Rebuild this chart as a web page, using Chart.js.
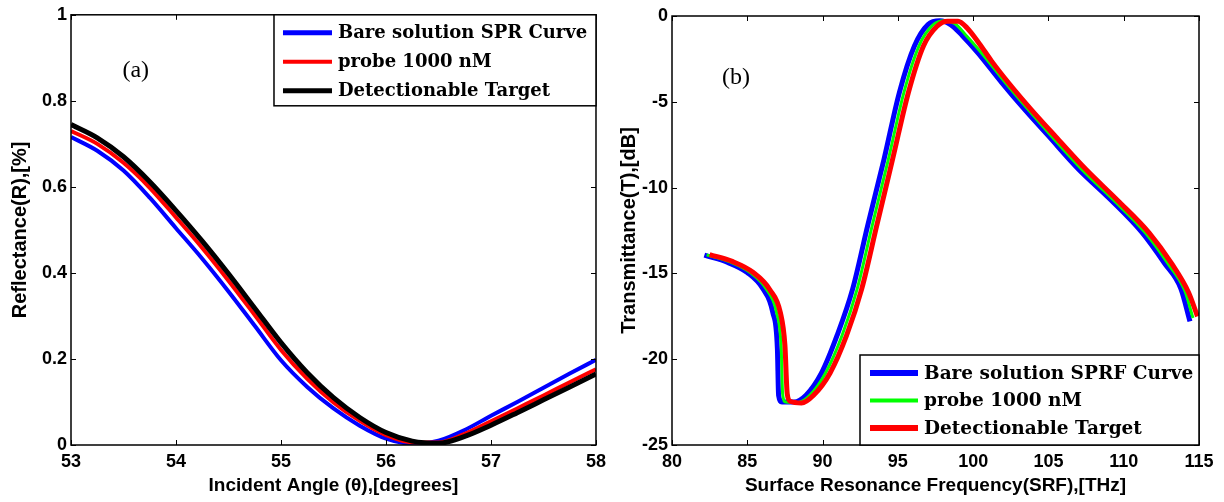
<!DOCTYPE html>
<html>
<head>
<meta charset="utf-8">
<script src="https://cdn.jsdelivr.net/npm/chart.js@4/dist/chart.umd.min.js"></script>
<style>
body{margin:0;background:#fff;}
.pane{position:absolute;top:0;width:612px;height:502px;}
</style>
</head>
<body>
<div class="pane" style="left:0"><canvas id="chartA" width="612" height="502"></canvas></div>
<div class="pane" style="left:612px"><canvas id="chartB" width="612" height="502"></canvas></div>
<script>
// panel (a): reflectance vs incident angle
var angleDeg   = [53, 53.25, 53.5, 53.75, 54, 54.25, 54.5, 54.75, 55, 55.25, 55.5, 55.75, 56, 56.25, 56.5, 56.75, 57, 57.25, 57.5, 57.75, 58]
var reflBare   = [0.716, 0.684, 0.638, 0.575, 0.504, 0.433, 0.357, 0.277, 0.197, 0.135, 0.085, 0.045, 0.015, 0.003, 0.010, 0.035, 0.068, 0.100, 0.133, 0.166, 0.198]
var reflProbe  = [0.730, 0.700, 0.656, 0.598, 0.529, 0.458, 0.382, 0.302, 0.221, 0.154, 0.099, 0.056, 0.023, 0.006, 0.006, 0.026, 0.055, 0.085, 0.115, 0.146, 0.176]
var reflTarget = [0.745, 0.714, 0.670, 0.612, 0.545, 0.474, 0.398, 0.318, 0.238, 0.168, 0.110, 0.064, 0.029, 0.009, 0.004, 0.020, 0.046, 0.075, 0.105, 0.135, 0.165]
var angleTicks = [53, 54, 55, 56, 57, 58]
var reflTicks  = [0, 0.2, 0.4, 0.6, 0.8, 1]
var legendA    = ['Bare solution SPR Curve', 'probe 1000 nM', 'Detectionable Target']

// panel (b): transmittance vs frequency
var freqBare    = [82.15, 83.7, 85.0, 86.04, 86.7, 87.0, 87.08, 87.3, 88.1, 88.9, 89.93, 90.97, 92.0, 93.0, 94.08, 95.1, 96.1, 97.0, 97.8, 98.5, 99.3, 100.3, 101.9, 103.4, 105.0, 107.0, 109.1, 111.2, 112.7, 113.8, 114.4]
var transBare   = [-13.94, -14.36, -14.95, -15.9, -17.3, -19.4, -22.1, -22.5, -22.5, -22.1, -20.8, -18.6, -15.9, -12.2, -8.35, -4.46, -1.75, -0.5, -0.28, -0.5, -1.16, -2.13, -3.88, -5.43, -6.99, -8.93, -10.68, -12.6, -14.4, -15.9, -17.8]
var freqProbe   = [82.3, 83.85, 85.2, 86.27, 86.95, 87.25, 87.35, 87.55, 88.35, 89.15, 90.2, 91.3, 92.3, 93.3, 94.37, 95.4, 96.4, 97.3, 98.1, 98.8, 99.6, 100.6, 102.2, 103.7, 105.25, 107.25, 109.35, 111.45, 112.95, 114.05, 114.6]
var transProbe  = [-13.92, -14.33, -14.95, -15.92, -17.3, -19.3, -22.05, -22.5, -22.52, -22.1, -20.8, -18.6, -15.9, -12.2, -8.35, -4.46, -1.75, -0.55, -0.28, -0.45, -1.2, -2.2, -3.95, -5.5, -7.05, -8.97, -10.75, -12.65, -14.45, -16.0, -17.6]
var freqTarget  = [82.5, 84.0, 85.4, 86.5, 87.2, 87.5, 87.65, 87.85, 88.6, 89.4, 90.5, 91.6, 92.6, 93.6, 94.65, 95.7, 96.7, 97.6, 98.3, 99.0, 99.6, 100.4, 101.2, 102.4, 103.9, 105.5, 107.5, 109.6, 111.7, 113.2, 114.3, 114.9]
var transTarget = [-13.9, -14.3, -14.95, -15.95, -17.3, -19.2, -22.0, -22.45, -22.55, -22.1, -20.8, -18.6, -15.9, -12.2, -8.35, -4.46, -1.75, -0.6, -0.3, -0.3, -0.7, -1.6, -2.6, -3.95, -5.5, -7.05, -8.95, -10.75, -12.65, -14.45, -16.1, -17.5]
var freqTicks   = [80, 85, 90, 95, 100, 105, 110, 115]
var transTicks  = [-25, -20, -15, -10, -5, 0]
var legendB     = ['Bare solution SPRF Curve', 'probe 1000 nM', 'Detectionable Target']

function Pairs(xs, ys){
    return xs.map(function(x, i){ return {x: x, y: ys[i]} })
}

function Series(label, xs, ys, color, width, order){
    return {
        label: label,
        data: Pairs(xs, ys),
        borderColor: color,
        backgroundColor: color,
        borderWidth: width,
        pointRadius: 0,
        showLine: true,
        fill: false,
        cubicInterpolationMode: 'monotone',
        order: order
    }
}

// box, inward ticks, panel tag and the legend, matlab style
var frame = {
    id: 'frame',
    afterDatasetsDraw: function(chart, args, opts){
        var ctx = chart.ctx, a = chart.chartArea
        var xs = chart.scales.x, ys = chart.scales.y
        ctx.save()
        ctx.strokeStyle = '#000'
        ctx.lineWidth = 1
        ctx.beginPath()
        xs.ticks.forEach(function(t){
            var px = Math.round(xs.getPixelForValue(t.value)) + 0.5
            ctx.moveTo(px, a.bottom); ctx.lineTo(px, a.bottom - 5)
            ctx.moveTo(px, a.top); ctx.lineTo(px, a.top + 5)
        })
        ys.ticks.forEach(function(t){
            var py = Math.round(ys.getPixelForValue(t.value)) + 0.5
            ctx.moveTo(a.left, py); ctx.lineTo(a.left + 5, py)
            ctx.moveTo(a.right, py); ctx.lineTo(a.right - 5, py)
        })
        ctx.stroke()
        ctx.lineWidth = 1.5
        ctx.strokeRect(a.left, a.top, a.right - a.left, a.bottom - a.top)

        ctx.fillStyle = '#000'
        ctx.font = '24px "Liberation Serif"'
        ctx.textBaseline = 'middle'
        ctx.textAlign = 'left'
        ctx.fillText(opts.tag, xs.getPixelForValue(opts.tagAt[0]), ys.getPixelForValue(opts.tagAt[1]))

        var L = opts.legend
        var bx = a.right - L.width
        var by = L.corner == 'top' ? a.top : a.bottom - L.height
        ctx.fillStyle = '#fff'
        ctx.fillRect(bx, by, L.width, L.height)
        ctx.lineWidth = 1.5
        ctx.strokeStyle = '#000'
        ctx.strokeRect(bx, by, L.width, L.height)
        ctx.font = 'bold ' + L.fontSize + 'px "DejaVu Serif"'
        chart.data.datasets.forEach(function(ds, i){
            var ry = by + L.first + i * L.step
            ctx.strokeStyle = ds.borderColor
            ctx.lineWidth = L.widths[i]
            ctx.beginPath()
            ctx.moveTo(bx + L.lineX, ry)
            ctx.lineTo(bx + L.lineX + L.lineLen, ry)
            ctx.stroke()
            ctx.fillStyle = '#000'
            ctx.fillText(opts.labels[i], bx + L.textX, ry + 1)
        })
        ctx.restore()
    }
}

var tickFont = {family: '"Liberation Sans", Arial', size: 18, weight: 'bold'}
var xTitleFont = {family: '"Liberation Sans", Arial', size: 19, weight: 'bold'}
var yTitleFont = {family: '"Liberation Sans", Arial', size: 20, weight: 'bold'}

function Options(xMin, xMax, xTicks, yMin, yMax, yTicks, xTitle, yTitle, pad, yWidth, xHeight, yTitlePad, extra){
    return {
        responsive: false,
        animation: false,
        layout: {padding: pad},
        plugins: {legend: {display: false}, tooltip: {enabled: false}, frame: extra},
        scales: {
            x: {
                type: 'linear', min: xMin, max: xMax,
                grid: {display: false, drawTicks: false},
                border: {display: false},
                afterBuildTicks: function(s){ s.ticks = xTicks.map(function(v){ return {value: v} }) },
                afterFit: function(s){ s.height = xHeight },
                ticks: {color: '#000', font: tickFont, padding: 6, maxRotation: 0, autoSkip: false,
                        callback: function(v){ return String(v) }},
                title: {display: true, text: xTitle, color: '#000', font: xTitleFont, padding: {top: 0, bottom: 5}}
            },
            y: {
                type: 'linear', min: yMin, max: yMax,
                grid: {display: false, drawTicks: false},
                border: {display: false},
                afterBuildTicks: function(s){ s.ticks = yTicks.map(function(v){ return {value: v} }) },
                afterFit: function(s){ s.width = yWidth },
                ticks: {color: '#000', font: tickFont, padding: 4, autoSkip: false,
                        callback: function(v){ return String(v) }},
                title: {display: true, text: yTitle, color: '#000', font: yTitleFont, padding: {top: yTitlePad, bottom: 0}}
            }
        }
    }
}

new Chart(document.getElementById('chartA'), {
    type: 'scatter',
    data: {
        datasets: [
            Series(legendA[0], angleDeg, reflBare, '#0000ff', 4, 3),
            Series(legendA[1], angleDeg, reflProbe, '#ff0000', 4, 2),
            Series(legendA[2], angleDeg, reflTarget, '#000000', 5, 1)
        ]
    },
    options: Options(53, 58, angleTicks, 0, 1, reflTicks,
        'Incident Angle (\u03b8),[degrees]', 'Reflectance(R),[%]',
        {left: 0, top: 12, right: 16, bottom: 0}, 71, 57, 8,
        {tag: '(a)', tagAt: [53.49, 0.87], labels: legendA,
         legend: {corner: 'top', width: 322, height: 91, first: 18, step: 29, lineX: 9, lineLen: 49, textX: 64, fontSize: 18, widths: [5, 4, 5]}}),
    plugins: [frame]
})

new Chart(document.getElementById('chartB'), {
    type: 'scatter',
    data: {
        datasets: [
            Series(legendB[0], freqBare, transBare, '#0000ff', 5, 3),
            Series(legendB[1], freqProbe, transProbe, '#00ff00', 3, 2),
            Series(legendB[2], freqTarget, transTarget, '#ff0000', 5, 1)
        ]
    },
    options: Options(80, 115, freqTicks, -25, 0, transTicks,
        'Surface Resonance Frequency(SRF),[THz]', 'Transmittance(T),[dB]',
        {left: 0, top: 16, right: 25, bottom: 0}, 60, 57, 5,
        {tag: '(b)', tagAt: [83.32, -3.6], labels: legendB,
         legend: {corner: 'bottom', width: 339, height: 90, first: 18, step: 27.5, lineX: 10, lineLen: 48, textX: 64, fontSize: 18.5, widths: [6, 4, 6]}}),
    plugins: [frame]
})
</script>
</body>
</html>
